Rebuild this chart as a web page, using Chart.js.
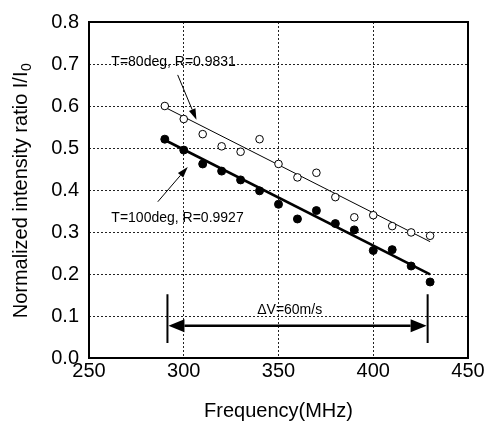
<!DOCTYPE html>
<html><head><meta charset="utf-8">
<script src="https://cdn.jsdelivr.net/npm/chart.js@4"></script>
<style>html,body{margin:0;padding:0;background:#fff}#wrap{width:486px;height:423px}</style>
</head><body><div id="wrap"><canvas id="c" width="486" height="423"></canvas></div>
<script>
const FONT = '"Liberation Sans", Arial, Helvetica, sans-serif';

// ---- data ----
const freq = [290, 300, 310, 320, 330, 340, 350, 360, 370, 380, 390, 400, 410, 420, 430];
const ratio80 = [0.600, 0.569, 0.533, 0.504, 0.491, 0.521, 0.462, 0.430, 0.441, 0.383, 0.335, 0.340, 0.314, 0.299, 0.291];
const ratio100 = [0.521, 0.495, 0.462, 0.445, 0.424, 0.398, 0.366, 0.331, 0.351, 0.320, 0.305, 0.256, 0.258, 0.219, 0.181];
const fitFreq = [290, 430];
const fit80 = [0.597, 0.277];
const fit100 = [0.519, 0.199];
const xTicks = [250, 300, 350, 400, 450];
const xTickLabels = ['250', '300', '350', '400', '450'];
const yTicks = [0.0, 0.1, 0.2, 0.3, 0.4, 0.5, 0.6, 0.7, 0.8];
const yTickLabels = ['0.0', '0.1', '0.2', '0.3', '0.4', '0.5', '0.6', '0.7', '0.8'];
const label80 = 'T=80deg, R=0.9831';
const label100 = 'T=100deg, R=0.9927';
const labelDV = '\u0394V=60m/s';
const dvRange = [291.4, 428.7];

// annotation placement (data coordinates)
const ann = {
  t80: {x: 261.8, y: 0.705},
  a80: {x1: 296.8, y1: 0.674, x2: 306.7, y2: 0.567},
  t100: {x: 261.8, y: 0.333},
  a100: {x1: 286.3, y1: 0.372, x2: 302.1, y2: 0.455},
  dvBarTop: 0.152, dvBarBottom: 0.036, dvArrowY: 0.077,
  dvText: {x: 355.9, y: 0.114}
};

const pts = (xs, ys) => xs.map((v, i) => ({x: v, y: ys[i]}));

function arrowHead(ctx, x1, y1, x2, y2, len, half) {
  const ang = Math.atan2(y2 - y1, x2 - x1);
  const bx = x2 - len * Math.cos(ang), by = y2 - len * Math.sin(ang);
  const px = -Math.sin(ang) * half, py = Math.cos(ang) * half;
  ctx.beginPath();
  ctx.moveTo(x2, y2);
  ctx.lineTo(bx + px, by + py);
  ctx.lineTo(bx - px, by - py);
  ctx.closePath();
  ctx.fill();
  return [bx, by];
}

const annotPlugin = {
  id: 'annot',
  afterDatasetsDraw(chart) {
    const {ctx, chartArea: a, scales: {x, y}} = chart;
    const X = v => x.getPixelForValue(v), Y = v => y.getPixelForValue(v);
    ctx.save();
    ctx.strokeStyle = '#000'; ctx.fillStyle = '#000';
    // plot box
    ctx.lineWidth = 2;
    ctx.strokeRect(a.left, a.top, a.right - a.left, a.bottom - a.top);
    // texts
    ctx.font = '14px ' + FONT;
    ctx.textBaseline = 'middle'; ctx.textAlign = 'left';
    ctx.fillText(label80, X(ann.t80.x), Y(ann.t80.y));
    ctx.fillText(label100, X(ann.t100.x), Y(ann.t100.y));
    ctx.textAlign = 'center';
    ctx.fillText(labelDV, X(ann.dvText.x), Y(ann.dvText.y));
    // slanted arrows
    ctx.lineWidth = 1;
    for (const ar of [ann.a80, ann.a100]) {
      const x1 = X(ar.x1), y1 = Y(ar.y1), x2 = X(ar.x2), y2 = Y(ar.y2);
      const [bx, by] = arrowHead(ctx, x1, y1, x2, y2, 11, 3.5);
      ctx.beginPath(); ctx.moveTo(x1, y1); ctx.lineTo(bx, by); ctx.stroke();
    }
    // delta V range
    const xl = X(dvRange[0]), xr = X(dvRange[1]);
    ctx.lineWidth = 2;
    ctx.beginPath();
    ctx.moveTo(xl, Y(ann.dvBarTop)); ctx.lineTo(xl, Y(ann.dvBarBottom));
    ctx.moveTo(xr, Y(ann.dvBarTop)); ctx.lineTo(xr, Y(ann.dvBarBottom));
    ctx.stroke();
    const ay = Y(ann.dvArrowY);
    const [lx] = arrowHead(ctx, xr, ay, xl + 1, ay, 16, 6.5);
    const [rx] = arrowHead(ctx, xl, ay, xr - 1, ay, 16, 6.5);
    ctx.lineWidth = 2.5;
    ctx.beginPath(); ctx.moveTo(lx, ay); ctx.lineTo(rx, ay); ctx.stroke();
    // y-axis title with subscript
    const cy = (a.top + a.bottom) / 2 + 1, cx = 21;
    ctx.translate(cx, cy); ctx.rotate(-Math.PI / 2);
    ctx.textAlign = 'left'; ctx.textBaseline = 'middle';
    const main = 'Normalized intensity ratio I/I', sub = '0';
    ctx.font = '20px ' + FONT;
    const wm = ctx.measureText(main).width;
    ctx.font = '14px ' + FONT;
    const ws = ctx.measureText(sub).width;
    const x0 = -(wm + ws) / 2;
    ctx.font = '20px ' + FONT;
    ctx.fillText(main, x0, 0);
    ctx.font = '14px ' + FONT;
    ctx.fillText(sub, x0 + wm + 0.5, 6);
    ctx.restore();
  }
};

const gridColor = (edges) => (c) => (c.tick && edges.includes(c.tick.value)) ? 'rgba(0,0,0,0)' : '#222';

new Chart(document.getElementById('c'), {
  type: 'scatter',
  data: {
    datasets: [
      {label: label80, data: pts(freq, ratio80), showLine: false, pointStyle: 'circle', pointRadius: 3.8,
       pointBackgroundColor: '#fff', pointBorderColor: '#000', pointBorderWidth: 1, order: 0},
      {label: label100, data: pts(freq, ratio100), showLine: false, pointStyle: 'circle', pointRadius: 4,
       pointBackgroundColor: '#000', pointBorderColor: '#000', pointBorderWidth: 1, order: 0},
      {label: 'fit80', data: pts(fitFreq, fit80), showLine: true, pointRadius: 0, borderColor: '#000',
       borderWidth: 1, order: 1},
      {label: 'fit100', data: pts(fitFreq, fit100), showLine: true, pointRadius: 0, borderColor: '#000',
       borderWidth: 2.6, order: 1}
    ]
  },
  options: {
    responsive: false, animation: false, events: [],
    plugins: {legend: {display: false}, tooltip: {enabled: false}},
    layout: {padding: {top: 22, right: 18, left: 0, bottom: 0}},
    scales: {
      x: {
        type: 'linear', min: 250, max: 450,
        afterBuildTicks: s => { s.ticks = xTicks.map(v => ({value: v})); },
        afterFit: s => { s.height = 65; },
        ticks: {font: {family: FONT, size: 20}, color: '#000', padding: 1, maxRotation: 0,
                callback: (v) => xTickLabels[xTicks.indexOf(v)]},
        grid: {drawTicks: false, lineWidth: 1, color: gridColor([250, 450])},
        border: {display: false, dash: [2, 2]},
        title: {display: true, text: 'Frequency(MHz)', color: '#000', font: {family: FONT, size: 20},
                padding: {top: 0, bottom: 0}}
      },
      y: {
        type: 'linear', min: 0, max: 0.8,
        afterBuildTicks: s => { s.ticks = yTicks.map(v => ({value: v})); },
        afterFit: s => { s.width = 89; },
        ticks: {font: {family: FONT, size: 20}, color: '#000', padding: 10,
                callback: (v) => yTickLabels[yTicks.findIndex(t => Math.abs(t - v) < 1e-9)]},
        grid: {drawTicks: false, lineWidth: 1, color: (c) => (c.tick && (Math.abs(c.tick.value) < 1e-9 || Math.abs(c.tick.value - 0.8) < 1e-9)) ? 'rgba(0,0,0,0)' : '#222'},
        border: {display: false, dash: [2, 2]}
      }
    }
  },
  plugins: [annotPlugin]
});
</script>
</body></html>
